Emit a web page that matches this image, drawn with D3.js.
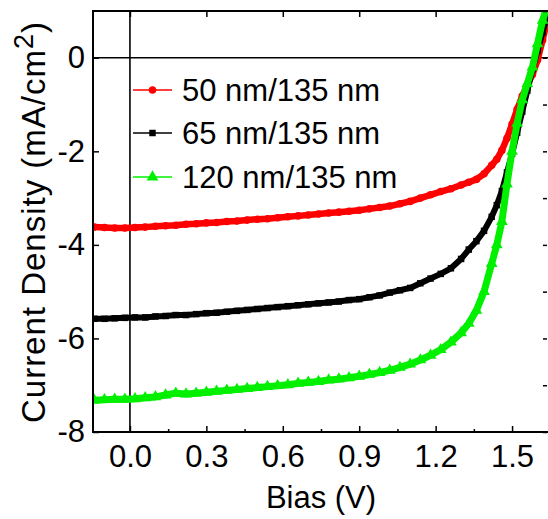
<!DOCTYPE html>
<html>
<head>
<meta charset="utf-8">
<script src="https://cdn.jsdelivr.net/npm/d3@7"></script>
<style>
  body { margin: 0; background: #fff; }
  svg { display: block; }
</style>
</head>
<body>
<svg id="chart" width="548" height="519"></svg>
<script>
// === Data ===
const bias = [
  -0.14, -0.10, -0.06, -0.02, 0.02, 0.06, 0.10, 0.14, 0.18, 0.22, 0.26, 0.30,
  0.34, 0.38, 0.42, 0.46, 0.50, 0.54, 0.58, 0.62, 0.66, 0.70, 0.74, 0.78,
  0.82, 0.86, 0.90, 0.94, 0.98, 1.02, 1.06, 1.10, 1.14, 1.18, 1.22, 1.26,
  1.30, 1.33, 1.36, 1.39, 1.42, 1.44, 1.46, 1.48, 1.50, 1.52, 1.54, 1.56,
  1.58, 1.60, 1.62, 1.64
];

const j50 = [
  -3.62, -3.63, -3.64, -3.64, -3.63, -3.62, -3.60, -3.59, -3.58, -3.56, -3.55, -3.53,
  -3.52, -3.50, -3.49, -3.47, -3.45, -3.44, -3.42, -3.40, -3.38, -3.36, -3.34, -3.32,
  -3.30, -3.28, -3.26, -3.23, -3.20, -3.17, -3.12, -3.07, -3.00, -2.93, -2.86, -2.80,
  -2.72, -2.66, -2.60, -2.48, -2.30, -2.17, -1.98, -1.72, -1.42, -1.10, -0.82, -0.58,
  -0.36, -0.05, 0.38, 0.85
];

const j65 = [
  -5.58, -5.58, -5.57, -5.56, -5.55, -5.55, -5.53, -5.52, -5.50, -5.50, -5.48, -5.46,
  -5.45, -5.43, -5.41, -5.39, -5.37, -5.35, -5.33, -5.31, -5.29, -5.27, -5.25, -5.23,
  -5.21, -5.18, -5.16, -5.12, -5.08, -5.02, -4.97, -4.92, -4.82, -4.72, -4.62, -4.50,
  -4.30, -4.10, -3.92, -3.70, -3.40, -3.15, -2.85, -2.45, -2.05, -1.60, -1.15, -0.70,
  -0.25, 0.15, 0.55, 0.95
];

const j120 = [
  -7.32, -7.31, -7.30, -7.30, -7.29, -7.27, -7.25, -7.21, -7.17, -7.19, -7.17, -7.15,
  -7.13, -7.11, -7.09, -7.07, -7.05, -7.03, -7.01, -6.99, -6.96, -6.94, -6.92, -6.89,
  -6.87, -6.84, -6.81, -6.77, -6.73, -6.68, -6.62, -6.55, -6.46, -6.36, -6.24, -6.08,
  -5.88, -5.68, -5.40, -5.00, -4.40, -4.00, -3.50, -2.70, -2.00, -1.40, -0.90, -0.55,
  -0.20, 0.30, 0.80, 1.15
];

const seriesNames = ["50 nm/135 nm", "65 nm/135 nm", "120 nm/135 nm"];
const seriesColors = ["#ff0000", "#000000", "#00f000"];
const seriesSymbols = [d3.symbolCircle, d3.symbolSquare, d3.symbolTriangle];
const seriesValues = [j50, j65, j120];

const xTicks = [0.0, 0.3, 0.6, 0.9, 1.2, 1.5];
const xMinorTicks = [0.15, 0.45, 0.75, 1.05, 1.35];
const yTicks = [0, -2, -4, -6, -8];
const yMinorTicks = [1, -1, -3, -5, -7];

// === Layout ===
const plotLeft = 93, plotRight = 549, plotTop = 11, plotBottom = 432;
const fontFamily = "'Liberation Sans', Arial, sans-serif";

const x = d3.scaleLinear().domain([-0.145, 1.645]).range([plotLeft, plotRight]);
const y = d3.scaleLinear().domain([-8, 1]).range([plotBottom, plotTop]);

const svg = d3.select("#chart");

svg.append("defs").append("clipPath")
  .attr("id", "plot-clip")
  .append("rect")
  .attr("x", plotLeft)
  .attr("y", plotTop)
  .attr("width", plotRight - plotLeft)
  .attr("height", plotBottom - plotTop);

// === Zero lines ===
svg.append("line")
  .attr("x1", plotLeft).attr("x2", plotRight)
  .attr("y1", y(0)).attr("y2", y(0))
  .attr("stroke", "#000").attr("stroke-width", 1.6);

svg.append("line")
  .attr("x1", x(0)).attr("x2", x(0))
  .attr("y1", plotTop).attr("y2", plotBottom)
  .attr("stroke", "#000").attr("stroke-width", 1.6);

// === Series ===
const plot = svg.append("g").attr("clip-path", "url(#plot-clip)");
const symbolSizes = [45, 42, 60];
const bandWidths = [6.5, 6, 7];

seriesValues.forEach((vals, i) => {
  const pts = bias.map((v, k) => [v, vals[k]]);

  plot.append("path")
    .datum(pts)
    .attr("fill", "none")
    .attr("stroke", seriesColors[i])
    .attr("stroke-width", bandWidths[i])
    .attr("stroke-linejoin", "round")
    .attr("d", d3.line().x(d => x(d[0])).y(d => y(d[1])));

  plot.append("g")
    .selectAll("path")
    .data(pts)
    .join("path")
    .attr("transform", d => `translate(${x(d[0])},${y(d[1])})`)
    .attr("d", d3.symbol().type(seriesSymbols[i]).size(symbolSizes[i]))
    .attr("fill", seriesColors[i]);
});

// === Axes ===
const tickStyle = g => {
  g.select(".domain").remove();
  g.selectAll("line").attr("stroke", "#000").attr("stroke-width", 1.5);
  g.selectAll("text")
    .attr("font-family", fontFamily)
    .attr("font-size", 31)
    .attr("fill", "#000");
};

svg.append("g")
  .attr("transform", `translate(0,${plotBottom})`)
  .call(d3.axisBottom(x).tickValues(xTicks).tickSize(-6).tickPadding(13).tickFormat(d => d.toFixed(1)))
  .call(tickStyle);

svg.append("g")
  .attr("transform", `translate(0,${plotBottom})`)
  .call(d3.axisBottom(x).tickValues(xMinorTicks).tickSize(-3).tickFormat(""))
  .call(tickStyle);

svg.append("g")
  .attr("transform", `translate(0,${plotTop})`)
  .call(d3.axisTop(x).tickValues(xTicks).tickSize(-6).tickFormat(""))
  .call(tickStyle);

svg.append("g")
  .attr("transform", `translate(${plotLeft},0)`)
  .call(d3.axisLeft(y).tickValues(yTicks).tickSize(-6).tickPadding(8).tickFormat(d => String(d)))
  .call(tickStyle);

svg.append("g")
  .attr("transform", `translate(${plotRight - 2},0)`)
  .call(d3.axisRight(y).tickValues(yTicks.concat(yMinorTicks)).tickSize(-4).tickFormat(""))
  .call(tickStyle);

// frame
svg.append("rect")
  .attr("x", plotLeft).attr("y", plotTop)
  .attr("width", plotRight - plotLeft).attr("height", plotBottom - plotTop)
  .attr("fill", "none")
  .attr("stroke", "#000")
  .attr("stroke-width", 2);

// === Axis titles ===
svg.append("text")
  .attr("x", 321)
  .attr("y", 508)
  .attr("text-anchor", "middle")
  .attr("font-family", fontFamily)
  .attr("font-size", 31)
  .text("Bias (V)");

const yTitle = svg.append("text")
  .attr("transform", "translate(45,222) rotate(-90)")
  .attr("text-anchor", "middle")
  .attr("font-family", fontFamily)
  .attr("font-size", 33)
  .attr("letter-spacing", 1);
yTitle.append("tspan").text("Current Density (mA/cm");
yTitle.append("tspan").attr("font-size", 27).attr("dy", -12).text("2");
yTitle.append("tspan").attr("dy", 12).text(")");

// === Legend ===
const legend = svg.append("g");
const legendY = [90, 133, 177];

seriesNames.forEach((name, i) => {
  const g = legend.append("g").attr("transform", `translate(0,${legendY[i]})`);
  g.append("line")
    .attr("x1", 133).attr("x2", 172)
    .attr("stroke", seriesColors[i])
    .attr("stroke-width", 1.5);
  g.append("path")
    .attr("transform", "translate(152.5,0)")
    .attr("d", d3.symbol().type(seriesSymbols[i]).size(symbolSizes[i]))
    .attr("fill", seriesColors[i]);
  g.append("text")
    .attr("x", 182)
    .attr("y", 0)
    .attr("dy", "0.36em")
    .attr("font-family", fontFamily)
    .attr("font-size", 31)
    .text(name);
});
</script>
</body>
</html>
